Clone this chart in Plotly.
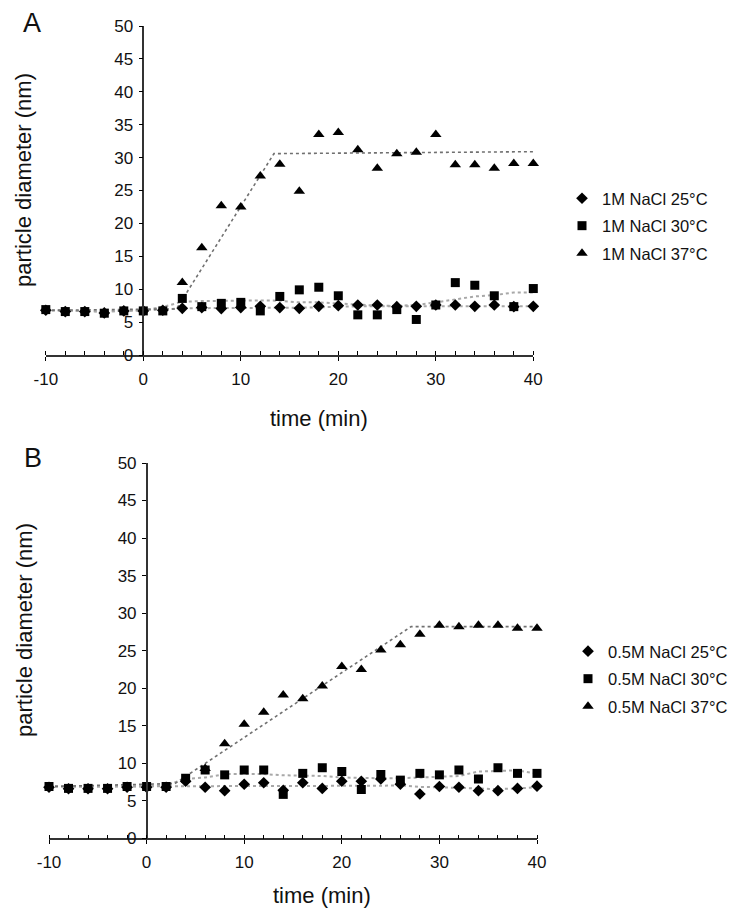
import plotly.graph_objects as go

# ---------------- data ----------------
time_min = [-10, -8, -6, -4, -2, 0, 2, 4, 6, 8, 10, 12, 14, 16, 18, 20,
            22, 24, 26, 28, 30, 32, 34, 36, 38, 40]

# Panel A (1M NaCl)
a_25 = [6.8, 6.6, 6.6, 6.4, 6.7, 6.7, 6.8, 7.1, 7.2, 7.05, 7.2, 7.4, 7.2, 7.1,
        7.4, 7.5, 7.6, 7.6, 7.35, 7.4, 7.6, 7.6, 7.4, 7.6, 7.35, 7.4]
a_30 = [6.9, 6.6, 6.6, 6.35, 6.7, 6.7, 6.7, 8.6, 7.35, 7.85, 8.0, 6.7, 8.9, 9.9,
        10.3, 9.0, 6.1, 6.1, 6.9, 5.4, 7.6, 11.0, 10.6, 9.0, 7.35, 10.1]
a_37 = [None, None, None, None, None, None, None, 11.0, 16.3, 22.7, 22.5, 27.2,
        29.0, 24.9, 33.5, 33.8, 31.2, 28.4, 30.6, 30.8, 33.5, 28.9, 28.9, 28.4,
        29.1, 29.1]

# Panel B (0.5M NaCl)
b_25 = [6.8, 6.6, 6.6, 6.6, 6.8, 6.8, 6.8, 7.6, 6.8, 6.35, 7.2, 7.4, 6.4, 7.4,
        6.65, 7.6, 7.6, 7.9, 7.2, 5.9, 6.9, 6.8, 6.35, 6.35, 6.65, 6.95]
b_30 = [6.9, 6.65, 6.65, 6.65, 6.9, 6.9, 6.9, 8.0, 9.1, 8.45, 9.1, 9.1, 5.85,
        8.65, 9.4, 8.9, 6.5, 8.5, 7.75, 8.65, 8.45, 9.1, 7.9, 9.4, 8.65, 8.65]
b_37 = [None, None, None, None, None, None, None, None, 9.3, 12.6, 15.2, 16.8,
        19.1, 18.6, 20.3, 22.9, 22.5, 25.1, 25.8, 27.2, 28.4, 28.2, 28.4, 28.4,
        28.0, 28.0]

# trend lines
a_25_trend = [6.8, 6.75, 6.7, 6.6, 6.7, 6.75, 6.9, 7.1, 7.1, 7.1, 7.15, 7.2, 7.2,
              7.2, 7.25, 7.35, 7.4, 7.4, 7.4, 7.4, 7.45, 7.45, 7.45, 7.45, 7.4, 7.4]
a_30_trend = [6.8, 6.7, 6.6, 6.6, 6.7, 6.8, 7.3, 8.1, 8.2, 8.25, 8.3, 8.3, 8.25,
              8.0, 8.0, 7.8, 7.6, 7.5, 7.5, 7.6, 8.0, 8.5, 8.9, 9.1, 9.5, 9.5]
a_37_trend_x = [-10, 3.4, 13.4, 40]
a_37_trend_y = [6.8, 7.0, 30.6, 30.9]

b_25_trend = [6.9, 6.9, 6.9, 6.9, 6.9, 6.95, 6.95, 6.95, 6.95, 6.95, 7.0, 7.0,
              7.0, 7.0, 7.0, 7.0, 7.0, 7.0, 7.05, 6.85, 6.8, 6.7, 6.55, 6.55,
              6.65, 6.8]
b_30_trend = [6.9, 6.9, 6.9, 6.9, 6.9, 6.9, 7.1, 7.9, 8.1, 8.55, 8.55, 8.55, 8.4,
              8.4, 8.3, 8.1, 8.0, 8.0, 8.0, 8.1, 8.3, 8.3, 8.9, 9.0, 9.05, 8.6]
b_37_trend_x = [-10, 2.9, 27.1, 40]
b_37_trend_y = [6.9, 7.3, 28.2, 28.2]

x_ticks = [-10, 0, 10, 20, 30, 40]
x_tick_labels = ["-10", "0", "10", "20", "30", "40"]
y_ticks = [0, 5, 10, 15, 20, 25, 30, 35, 40, 45, 50]

labels_a = ["1M NaCl 25°C", "1M NaCl 30°C", "1M NaCl 37°C"]
labels_b = ["0.5M NaCl 25°C", "0.5M NaCl 30°C", "0.5M NaCl 37°C"]

# ---------------- figure ----------------
W, H = 737, 918
FONT = "Liberation Sans, Arial, sans-serif"


def fx(p):
    return p / W


def fy(p):
    return 1 - p / H


fig = go.Figure()

trend_light = dict(color="#a8a8a8", width=2, dash="dot")
trend_dark = dict(color="#707070", width=1.6, dash="dot")

for xa, ya, t25, t30, tx, ty in [
    ("x", "y", a_25_trend, a_30_trend, a_37_trend_x, a_37_trend_y),
    ("x2", "y2", b_25_trend, b_30_trend, b_37_trend_x, b_37_trend_y),
]:
    fig.add_trace(go.Scatter(x=time_min, y=t25, mode="lines", line=trend_light,
                             xaxis=xa, yaxis=ya, showlegend=False, hoverinfo="skip"))
    fig.add_trace(go.Scatter(x=time_min, y=t30, mode="lines", line=trend_light,
                             xaxis=xa, yaxis=ya, showlegend=False, hoverinfo="skip"))
    fig.add_trace(go.Scatter(x=tx, y=ty, mode="lines", line=trend_dark,
                             xaxis=xa, yaxis=ya, showlegend=False, hoverinfo="skip"))

symbols = [("diamond", 9), ("square", 9), ("triangle-up", 10)]

for (xa, ya, leg, series, labels) in [
    ("x", "y", "legend", [a_25, a_30, a_37], labels_a),
    ("x2", "y2", "legend2", [b_25, b_30, b_37], labels_b),
]:
    for i, (vals, lab) in enumerate(zip(series, labels)):
        sym, sz = symbols[i]
        fig.add_trace(go.Scatter(
            x=time_min, y=vals, mode="markers", name=lab,
            marker=dict(symbol=sym, size=sz, color="black"),
            xaxis=xa, yaxis=ya, legend=leg, legendgroup=lab,
            cliponaxis=False,
        ))

# axis geometry (pixels)
A_x0, A_x1, A_y0, A_y1 = 45.8, 533.3, 26, 355
B_x0, B_x1, B_y0, B_y1 = 49.0, 537.0, 463, 838.3


def xaxis_cfg(x0, x1, anchor):
    return dict(
        domain=[fx(x0), fx(x1)], range=[-10, 40], anchor=anchor,
        tickvals=x_ticks, ticktext=x_tick_labels, ticks="outside", ticklen=4,
        tickwidth=1.2, tickcolor="black", showline=True, linecolor="#333333",
        linewidth=1.5, showgrid=False, zeroline=False, automargin=False,
        minor=dict(dtick=2, tick0=0, ticks="inside", ticklen=4, tickcolor="black",
                   tickwidth=1.2, showgrid=False),
        tickfont=dict(family=FONT, size=17, color="#111111"),
        ticklabelstandoff=4,
    )


def yaxis_cfg(y0, y1, xpos):
    return dict(
        domain=[fy(y1), fy(y0)], range=[0, 50], anchor="free", position=fx(xpos),
        tickvals=y_ticks, ticks="outside", ticklen=4, tickwidth=1.2,
        tickcolor="black", showline=True, linecolor="#333333", linewidth=1.5,
        showgrid=False, zeroline=False, automargin=False,
        tickfont=dict(family=FONT, size=17, color="#111111"),
        ticklabelstandoff=2,
    )


legend_common = dict(
    xanchor="left", yanchor="top", bgcolor="rgba(0,0,0,0)",
    font=dict(family=FONT, size=16.5, color="#111111"),
    itemwidth=30, tracegroupgap=3, itemclick=False,
)


def ann(text, px, py, size, angle=0):
    return dict(text=text, x=fx(px), y=fy(py), xref="paper", yref="paper",
                xanchor="center", yanchor="middle", showarrow=False,
                textangle=angle, font=dict(family=FONT, size=size, color="#111111"))


fig.update_layout(
    width=W, height=H,
    margin=dict(l=0, r=0, t=0, b=0, pad=0, autoexpand=False),
    paper_bgcolor="white", plot_bgcolor="white",
    font=dict(family=FONT, color="#111111"),
    xaxis=xaxis_cfg(A_x0, A_x1, "y"),
    yaxis=yaxis_cfg(A_y0, A_y1, 143.3),
    xaxis2=xaxis_cfg(B_x0, B_x1, "y2"),
    yaxis2=yaxis_cfg(B_y0, B_y1, 146.7),
    legend=dict(x=fx(562), y=fy(181), **legend_common),
    legend2=dict(x=fx(568), y=fy(634), **legend_common),
    annotations=[
        ann("A", 32, 23, 27),
        ann("B", 33, 458, 27),
        ann("particle diameter (nm)", 24, 180, 22, -90),
        ann("particle diameter (nm)", 24, 630, 22, -90),
        ann("time (min)", 319, 418, 22),
        ann("time (min)", 322, 895, 22),
    ],
    showlegend=True,
)

fig.write_html(
    "out.html",
    config={"displayModeBar": False},
    post_script="document.body.style.margin='0px';"
                "document.body.style.padding='0px';"
                "document.body.style.overflow='hidden';",
)
